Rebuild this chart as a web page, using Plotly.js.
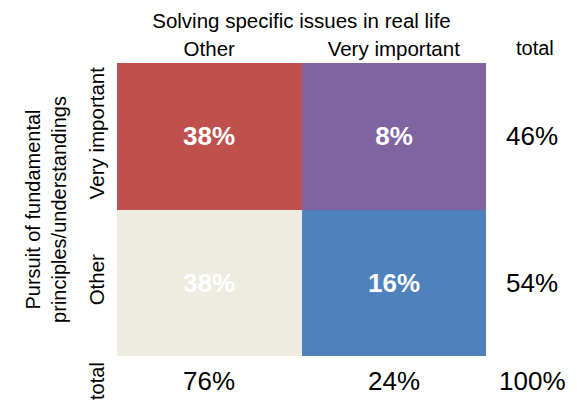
<!DOCTYPE html>
<html>
<head>
<meta charset="utf-8">
<script src="https://cdn.plot.ly/plotly-3.0.1.min.js"></script>
<style>html,body{margin:0;padding:0;background:#fff;}#chart{width:577px;height:401px;}</style>
</head>
<body>
<div id="chart"></div>
<script>
// Columns: "Solving specific issues in real life"; rows: "Pursuit of fundamental principles/understandings"
var colLabels = ['Other', 'Very important'];
var rowLabels = ['Other', 'Very important'];           // bottom row first
// cell shares (%) by row (bottom row first), columns left to right
var rowOther = [38, 16];
var rowVeryImportant = [38, 8];
var colTotals = [76, 24];
var rowTotals = [54, 46];                               // Other, Very important
var grandTotal = 100;
// colour group of each cell (bottom row first)
var colorGroups = [[0, 1], [2, 3]];
var palette = ['#EEECE1', '#4F81BD', '#C0504D', '#8064A2'];

var FONT = 'Liberation Sans, Arial, sans-serif';
var cellValues = [rowOther, rowVeryImportant];
var cellText = cellValues.map(function (r) { return r.map(function (v) { return v + '%'; }); });

var colorscale = palette.map(function (c, i) { return [i / (palette.length - 1), c]; });

var heat = {
  type: 'heatmap',
  x: [0, 1],
  y: [0, 1],
  z: colorGroups,
  zmin: 0, zmax: palette.length - 1,
  colorscale: colorscale,
  showscale: false,
  text: cellText,
  texttemplate: '<b>%{text}</b>',
  textfont: { family: FONT, size: 26, color: '#ffffff' },
  hoverinfo: 'skip',
  xgap: 0, ygap: 0
};

var TOT = { family: FONT, size: 26, color: '#000' };
var annotations = [];
var totXp = 1.125, totYp = -0.085;
function ann(o) { o.showarrow = false; o.xanchor = 'center'; o.yanchor = 'middle'; annotations.push(o); }
rowTotals.forEach(function (v, i) {
  ann({ x: totXp, y: i, xref: 'paper', yref: 'y', text: v + '%', font: TOT });
});
colTotals.forEach(function (v, i) {
  ann({ x: i, y: totYp, xref: 'x', yref: 'paper', text: v + '%', font: TOT });
});
ann({ x: totXp, y: totYp, xref: 'paper', yref: 'paper', text: grandTotal + '%', font: TOT });
ann({ x: 1.133, y: 1.05, xref: 'paper', yref: 'paper', text: 'total',
  font: { family: FONT, size: 20, color: '#000' } });
ann({ x: -0.054, y: totYp, xref: 'paper', yref: 'paper', text: 'total', textangle: -90,
  font: { family: FONT, size: 20, color: '#000' } });

var layout = {
  width: 577, height: 401,
  margin: { l: 117, r: 91, t: 63, b: 45, pad: 0 },
  paper_bgcolor: '#fff', plot_bgcolor: '#fff',
  font: { family: FONT, size: 21, color: '#000' },
  showlegend: false,
  xaxis: {
    side: 'top', range: [-0.5, 1.5], tickvals: [0, 1], ticktext: colLabels,
    showgrid: false, zeroline: false, showline: false, ticks: '', ticklen: 0,
    tickfont: { family: FONT, size: 20.5, color: '#000' },
    ticklabelstandoff: 2,
    title: { text: 'Solving specific issues in real life', font: { family: FONT, size: 20.5, color: '#000' }, standoff: 2 },
    fixedrange: true
  },
  yaxis: {
    range: [-0.5, 1.5], tickvals: [0, 1], ticktext: rowLabels, tickangle: -90,
    showgrid: false, zeroline: false, showline: false, ticks: '', ticklen: 0,
    tickfont: { family: FONT, size: 20.5, color: '#000' },
    ticklabelstandoff: 8,
    title: { text: 'Pursuit of fundamental<br>principles/understandings', font: { family: FONT, size: 20, color: '#000' }, standoff: 12 },
    fixedrange: true
  },
  annotations: annotations
};

Plotly.newPlot('chart', [heat], layout, { displayModeBar: false, staticPlot: true });
</script>
</body>
</html>
